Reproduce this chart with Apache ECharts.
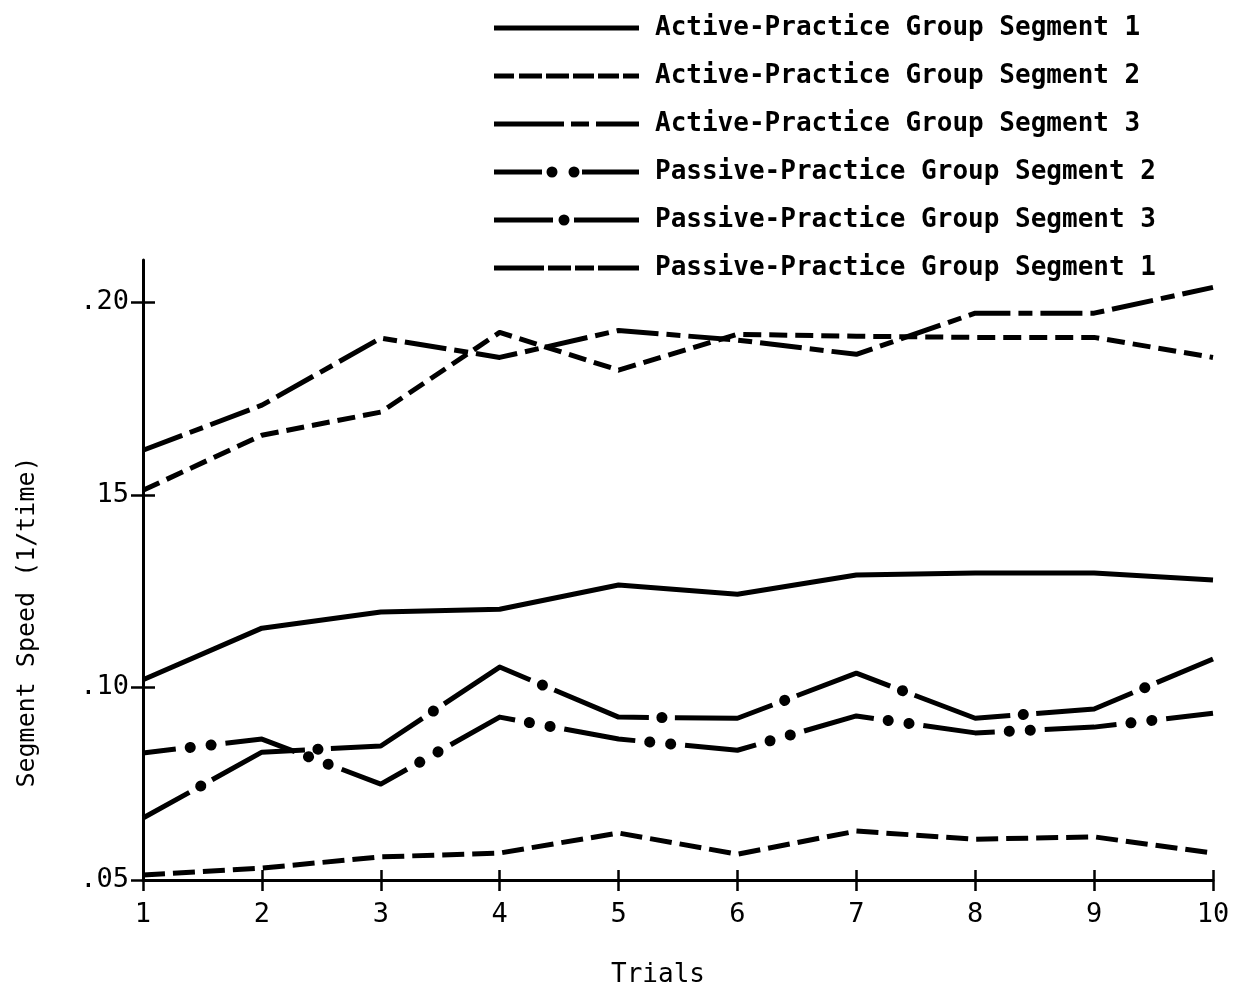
<!DOCTYPE html>
<html><head><meta charset="utf-8">
<script src="https://cdn.jsdelivr.net/npm/echarts@6/dist/echarts.min.js"></script>
<style>html,body{margin:0;padding:0;background:#fff}#c{width:1243px;height:996px}</style>
</head><body><div id="c"></div>
<script>
// ---- data ----
const trials = [1, 2, 3, 4, 5, 6, 7, 8, 9, 10];
const activeSeg1 = [0.1020, 0.1154, 0.1196, 0.1203, 0.1266, 0.1242, 0.1292, 0.1297, 0.1297, 0.1279];
const activeSeg2 = [0.1512, 0.1655, 0.1715, 0.1922, 0.1824, 0.1917, 0.1912, 0.1909, 0.1909, 0.1857];
const activeSeg3 = [0.1616, 0.1733, 0.1907, 0.1857, 0.1927, 0.1902, 0.1865, 0.1972, 0.1972, 0.2039];
const passiveSeg2 = [0.0830, 0.0866, 0.0749, 0.0923, 0.0866, 0.0837, 0.0926, 0.0882, 0.0897, 0.0933];
const passiveSeg3 = [0.0661, 0.0832, 0.0848, 0.1053, 0.0923, 0.0920, 0.1037, 0.0920, 0.0944, 0.1074];
const passiveSeg1 = [0.0513, 0.0531, 0.0560, 0.0570, 0.0622, 0.0567, 0.0627, 0.0606, 0.0612, 0.0570];
const seriesNames = [
  'Active-Practice Group Segment 1',
  'Active-Practice Group Segment 2',
  'Active-Practice Group Segment 3',
  'Passive-Practice Group Segment 2',
  'Passive-Practice Group Segment 3',
  'Passive-Practice Group Segment 1'
];
const yTickValues = [0.05, 0.10, 0.15, 0.20];
const yTickLabels = ['.05', '.10', '15', '.20'];
const xTickValues = [1, 2, 3, 4, 5, 6, 7, 8, 9, 10];
const xTickLabels = ['1', '2', '3', '4', '5', '6', '7', '8', '9', '10'];
const xTitle = 'Trials';
const yTitle = 'Segment Speed (1/time)';

// ---- helpers ----
const pairs = vals => trials.map((t, i) => [t, vals[i]]);
const FONT = "'DejaVu Sans Mono', 'Liberation Mono', monospace";
const rect = (a, b) => `M${a},3.5H${b}V8.5H${a}Z`;
const circ = c => `M${c - 5.5},6A5.5,5.5,0,1,0,${c + 5.5},6A5.5,5.5,0,1,0,${c - 5.5},6Z`;
const icons = {
  a1: 'path://' + rect(0, 145),
  a2: 'path://' + [[0,20],[25,48],[52,75],[79,100],[104,125],[129,145]].map(r => rect(r[0], r[1])).join(''),
  a3: 'path://' + [[0,70],[77,95],[102,145]].map(r => rect(r[0], r[1])).join(''),
  p2: 'path://' + rect(0, 48) + circ(58) + circ(80) + rect(88, 145),
  p3: 'path://' + rect(0, 59) + circ(70) + rect(80, 145),
  p1: 'path://' + [[0,50],[54,77],[81,100],[104,145]].map(r => rect(r[0], r[1])).join('')
};
const fmtY = v => {
  const i = yTickValues.findIndex(t => Math.abs(t - v) < 1e-6);
  return i >= 0 ? yTickLabels[i] : '';
};
const fmtX = v => {
  const i = xTickValues.findIndex(t => Math.abs(t - v) < 1e-6);
  return i >= 0 ? xTickLabels[i] : '';
};

function line(name, vals, type, offset, width, cap) {
  return {
    type: 'line', name: name, data: pairs(vals),
    showSymbol: false, symbol: 'none', silent: true,
    animation: false,
    lineStyle: { color: '#000', width: width || 5, type: type, dashOffset: offset || 0, cap: cap || 'butt', join: 'round' },
    itemStyle: { color: '#000' },
    emphasis: { disabled: true }
  };
}

const chart = echarts.init(document.getElementById('c'), null, { renderer: 'canvas' });
chart.setOption({
  animation: false,
  backgroundColor: '#fff',
  grid: { left: 143, right: 30, top: 260, bottom: 116, containLabel: false },
  legend: {
    orient: 'vertical', left: 494, top: 13, padding: 0,
    itemWidth: 145, itemHeight: 12, itemGap: 18,
    selectedMode: false,
    textStyle: { fontFamily: FONT, fontSize: 26, fontWeight: 'bold', color: '#000', lineHeight: 30, padding: [0, 0, 0, 11] },
    itemStyle: { borderWidth: 0 },
    data: [
      { name: seriesNames[0], icon: icons.a1 },
      { name: seriesNames[1], icon: icons.a2 },
      { name: seriesNames[2], icon: icons.a3 },
      { name: seriesNames[3], icon: icons.p2 },
      { name: seriesNames[4], icon: icons.p3 },
      { name: seriesNames[5], icon: icons.p1 }
    ]
  },
  xAxis: [
    {
      type: 'value', min: 1, max: 10, position: 'bottom',
      axisLine: { show: true, lineStyle: { color: '#000', width: 3 } },
      axisTick: { show: true, inside: false, length: 11, customValues: xTickValues, lineStyle: { color: '#000', width: 2.5 } },
      axisLabel: { customValues: xTickValues, formatter: fmtX, margin: 21, fontFamily: FONT, fontSize: 27, color: '#000' },
      splitLine: { show: false }
    },
    {
      type: 'value', min: 1, max: 10, position: 'bottom', offset: 0,
      axisLine: { show: false },
      axisTick: { show: true, inside: true, length: 10, customValues: xTickValues, lineStyle: { color: '#000', width: 2.5 } },
      axisLabel: { show: false },
      splitLine: { show: false }
    }
  ],
  yAxis: [
    {
      type: 'value', min: 0.05, max: 0.211, position: 'left',
      axisLine: { show: true, lineStyle: { color: '#000', width: 3 } },
      axisTick: { show: true, inside: false, length: 12, customValues: yTickValues, lineStyle: { color: '#000', width: 2.5 } },
      axisLabel: { customValues: yTickValues, formatter: fmtY, margin: 14, fontFamily: FONT, fontSize: 27, color: '#000', padding: [6, 0, 0, 0] },
      splitLine: { show: false }
    },
    {
      type: 'value', min: 0.05, max: 0.211, position: 'left', offset: 0,
      axisLine: { show: false },
      axisTick: { show: true, inside: true, length: 12, customValues: yTickValues, lineStyle: { color: '#000', width: 2.5 } },
      axisLabel: { show: false },
      splitLine: { show: false }
    }
  ],
  graphic: [
    { type: 'text', x: 658, y: 975, silent: true,
      style: { text: xTitle, fontFamily: FONT, fontSize: 26, fill: '#000', align: 'center', verticalAlign: 'middle' } },
    { type: 'text', x: 27, y: 622, rotation: Math.PI / 2, silent: true,
      style: { text: yTitle, fontFamily: FONT, fontSize: 25, fill: '#000', align: 'center', verticalAlign: 'middle' } }
  ],
  series: [
    line(seriesNames[0], activeSeg1, 'solid', 0),
    line(seriesNames[1], activeSeg2, [18, 8], 0),
    line(seriesNames[2], activeSeg3, [42, 8, 14, 8], 0),
    line(seriesNames[3], passiveSeg2, [72, 50], 39),
    line(seriesNames[3] + ' dots', passiveSeg2, [0.1, 20.9, 0.1, 100.9], 74.5, 11, 'round'),
    line(seriesNames[4], passiveSeg3, [100, 26], 47),
    line(seriesNames[4] + ' dots', passiveSeg3, [0.1, 125.9], 60, 11, 'round'),
    line(seriesNames[5], passiveSeg1, [22, 8], 0)
  ]
});
</script>
</body></html>
